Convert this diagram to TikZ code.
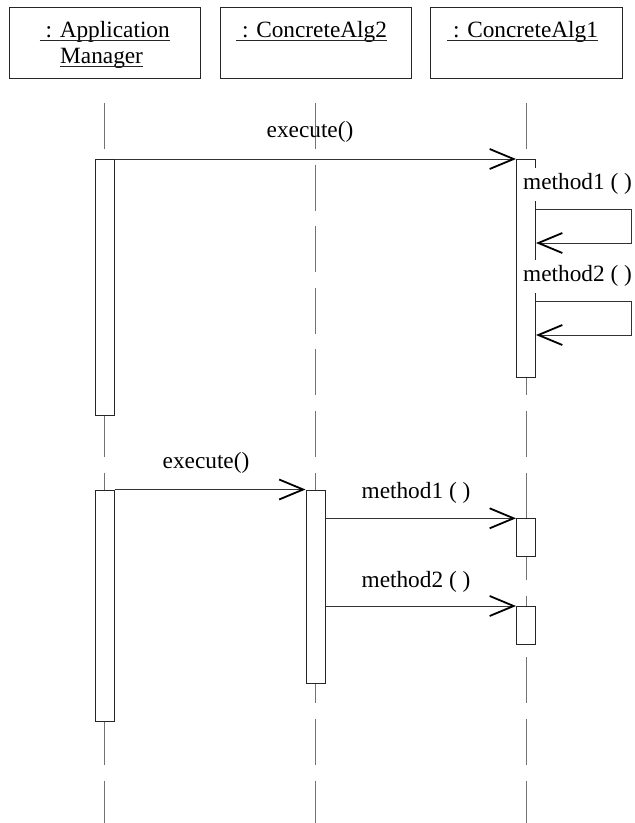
\documentclass[tikz,border=0pt]{standalone}
\usepackage{fontspec}
\setmainfont{Liberation Serif}
\usetikzlibrary{arrows.meta}
\begin{document}
\begin{tikzpicture}[x=1pt,y=-1pt,
  every node/.style={font=\fontsize{23.3}{26}\selectfont, inner sep=0pt},
  objbox/.style={draw=black!85, line width=1pt, minimum width=191pt, minimum height=71.5pt},
  life/.style={draw=black!55, line width=1pt, dash pattern=on 46pt off 15.6pt},
  act/.style={draw=black!85, fill=white, line width=1pt, minimum width=19pt, anchor=north},
  msg/.style={draw=black!80, line width=1pt, -{Straight Barb[length=24pt,width=20pt,line width=1.8pt,color=black]}},
  lbl/.style={anchor=base},
  ulbl/.style={anchor=base west},
  slbl/.style={anchor=base west, fill=white, text height=21pt, text depth=12pt, inner xsep=1pt},
  uline/.style={draw=black!85, line width=1pt}
  ]
\useasboundingbox (0,0) rectangle (635,823);
\fill[white] (0,0) rectangle (635,823);

% objects
\node[objbox] (o1) at (104.5,43) {};
\node[objbox] (o2) at (315.5,43) {};
\node[objbox, minimum width=192pt] (o3) at (526,43) {};
\node[ulbl] (t1a) at (39.5,37) {\ : Application};
\node[ulbl] (t1b) at (60,63) {Manager};
\node[ulbl] (t2) at (236,37) {\ : ConcreteAlg2};
\node[ulbl] (t3) at (447,37) {\ : ConcreteAlg1};
\foreach \t in {t1a,t1b,t2,t3}
  \draw[uline] ([yshift=-3.7pt]\t.base west) -- ([yshift=-3.7pt]\t.base east);

% lifelines
\coordinate (ytop) at (0,103);
\coordinate (ybot) at (0,823);
\foreach \o in {o1,o2,o3}
  \draw[life] (\o.south |- ytop) -- (\o.south |- ybot);

% activations
\node[act, minimum height=256pt] (a1) at (104.5,159) {};
\node[act, minimum height=218pt] (a3) at (526,159) {};
\node[act, minimum height=231.5pt] (a1b) at (104.5,489.5) {};
\node[act, minimum height=193pt] (a2) at (315.5,489.5) {};
\node[act, minimum height=37.7pt] (s1) at (526,518.3) {};
\node[act, minimum height=38pt] (s2) at (526,606) {};

% first scenario
\draw[msg] (a1.north east) -- (a3.north west);
\node[lbl] (e1) at (310,137.5) {execute()};
\coordinate (c1a) at (631.7,209);
\coordinate (c1b) at (631.7,243);
\coordinate (c2a) at (631.7,301);
\coordinate (c2b) at (631.7,335);
\node[slbl] (lm1) at (522,189) {method1 ( )};
\draw[msg] (a3.east |- c1a) -- (c1a) -- (c1b) -- (a3.east |- c1b);
\node[slbl] (lm2) at (522,281) {method2 ( )};
\draw[msg] (a3.east |- c2a) -- (c2a) -- (c2b) -- (a3.east |- c2b);

% second scenario
\draw[msg] (a1b.north east) -- (a2.north west);
\node[lbl] (e2) at (206,468) {execute()};
\draw[msg] (a2.east |- s1.north) -- (s1.north west);
\node[lbl] (m1) at (416,498.5) {method1 ( )};
\draw[msg] (a2.east |- s2.north) -- (s2.north west);
\node[lbl] (m2) at (416,587) {method2 ( )};
\end{tikzpicture}
\end{document}
